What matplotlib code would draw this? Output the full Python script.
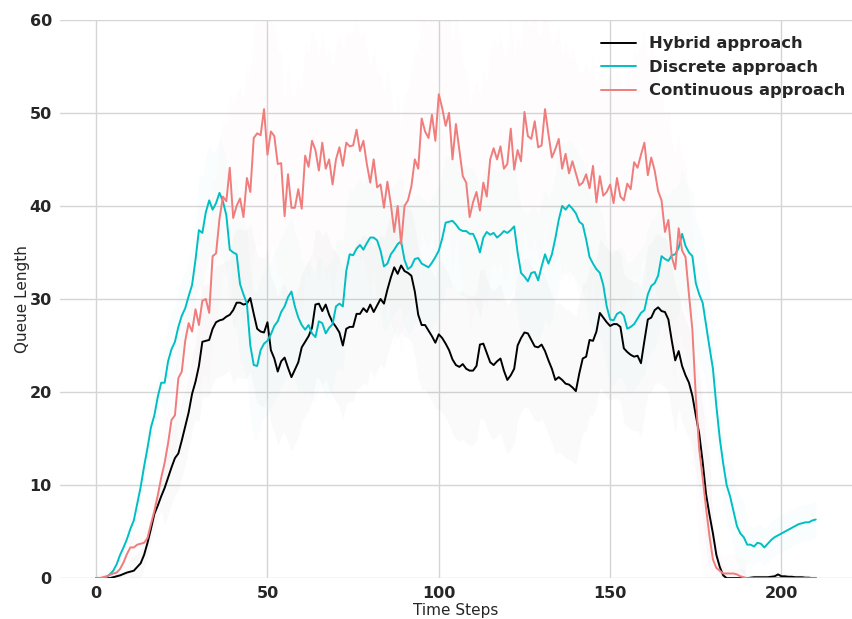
import numpy as np
import matplotlib
matplotlib.use("Agg")
import matplotlib.pyplot as plt
import seaborn as sns

# mean queue length per time step (t = 0 .. 210)
hybrid = [
    0, 0, 0, 0, 0, 0.1, 0.2, 0.3, 0.45, 0.6,
    0.7, 0.8, 1.2, 1.6, 2.5, 3.8, 5.3, 6.9, 7.8, 8.8,
    9.7, 10.8, 11.9, 12.9, 13.4, 14.8, 16.3, 17.8, 19.8, 21.1,
    22.8, 25.4, 25.5, 25.6, 26.8, 27.5, 27.7, 27.8, 28.1, 28.3,
    28.8, 29.6, 29.6, 29.4, 29.5, 30.1, 28.4, 26.8, 26.5, 26.4,
    27.5, 24.5, 23.6, 22.2, 23.3, 23.7, 22.6, 21.6, 22.4, 23.2,
    24.8, 25.4, 26.0, 26.9, 29.4, 29.5, 28.7, 29.4, 28.3, 27.5,
    27.0, 26.4, 25.0, 26.8, 27.0, 27.0, 28.4, 28.4, 29.0, 28.6,
    29.4, 28.6, 29.3, 30.0, 29.5, 31.0, 32.3, 33.4, 32.7, 33.6,
    33.0, 32.8, 32.5, 30.8, 28.3, 27.2, 27.2, 26.6, 26.0, 25.3,
    26.2, 25.8, 25.2, 24.5, 23.5, 22.9, 22.7, 23.0, 22.5, 22.3,
    22.3, 22.8, 25.1, 25.2, 24.2, 23.2, 22.9, 23.3, 23.6, 22.3,
    21.3, 21.8, 22.5, 25.0, 25.8, 26.4, 26.3, 25.6, 24.9, 24.8,
    25.1, 24.4, 23.4, 22.5, 21.3, 21.6, 21.3, 20.9, 20.8, 20.5,
    20.1, 22.0, 23.6, 23.8, 25.6, 25.5, 26.5, 28.5, 28.0, 27.5,
    27.1, 27.3, 27.3, 27.0, 24.7, 24.3, 24.0, 23.8, 23.9, 23.1,
    25.5, 27.8, 28.0, 28.8, 29.1, 28.7, 28.6, 27.8, 25.5, 23.4,
    24.4, 22.8, 21.8, 21.0, 19.6, 17.5, 15.5, 12.5, 9.0, 6.8,
    4.8, 2.5, 1.2, 0.3, 0, 0, 0, 0, 0, 0,
    0, 0.05, 0.1, 0.1, 0.1, 0.1, 0.1, 0.15, 0.2, 0.4,
    0.2, 0.2, 0.15, 0.15, 0.1, 0.1, 0.1, 0.05, 0.05, 0,
    0,
]
discrete = [
    0, 0, 0, 0.1, 0.4, 0.8, 1.5, 2.5, 3.3, 4.2,
    5.3, 6.2, 8.0, 9.8, 12.0, 14.0, 16.2, 17.5, 19.5, 21.0,
    21.0, 23.3, 24.6, 25.4, 27.0, 28.2, 29.0, 30.3, 31.5, 34.2,
    37.4, 37.1, 39.3, 40.6, 39.6, 40.3, 41.4, 40.5, 39.0, 35.3,
    35.0, 34.8, 31.6, 30.5, 29.5, 25.0, 22.9, 22.8, 24.5, 25.2,
    25.5, 26.2, 27.1, 27.6, 28.6, 29.2, 30.2, 30.8, 29.2, 28.0,
    27.2, 26.7, 27.2, 26.3, 25.9, 27.6, 27.4, 26.3, 26.9, 27.3,
    29.2, 29.5, 29.2, 33.0, 34.8, 34.7, 35.4, 35.8, 35.3, 36.0,
    36.6, 36.6, 36.3, 35.2, 33.5, 33.8, 34.8, 35.3, 35.9, 36.2,
    34.2, 33.2, 33.5, 34.3, 34.4, 33.8, 33.6, 33.4, 33.9, 34.5,
    35.2, 36.5, 38.2, 38.3, 38.4, 38.0, 37.5, 37.3, 37.3, 37.0,
    37.0, 36.2, 35.0, 36.6, 37.2, 36.9, 37.1, 36.6, 36.9, 37.3,
    37.1, 37.4, 37.8, 35.0, 32.8, 32.4, 31.9, 32.8, 32.9, 32.0,
    33.5, 34.8, 33.8, 34.8, 36.5, 38.5, 40.0, 39.6, 40.1, 39.7,
    39.2, 38.3, 38.0, 36.4, 34.5, 33.8, 33.2, 32.8, 31.5, 29.2,
    27.8, 27.7, 28.4, 28.6, 28.2, 26.8, 27.0, 27.3, 27.9, 28.5,
    28.8, 30.5, 31.4, 31.7, 32.5, 34.6, 34.3, 34.1, 34.7, 34.8,
    35.5, 37.0, 35.7, 35.0, 34.6, 31.7, 30.5, 29.6, 27.2, 24.8,
    22.5, 18.5, 15.0, 12.3, 10.0, 8.8, 7.2, 5.6, 4.8, 4.4,
    3.6, 3.6, 3.4, 3.8, 3.7, 3.3, 3.7, 4.1, 4.4, 4.6,
    4.8, 5.0, 5.2, 5.4, 5.6, 5.8, 5.9, 6.0, 6.0, 6.2,
    6.3,
]
continuous = [
    0, 0, 0.1, 0.2, 0.35, 0.5, 0.6, 1.0, 1.7, 2.6,
    3.3, 3.3, 3.6, 3.7, 3.8, 4.3, 5.8, 7.2, 8.9, 10.8,
    12.4, 14.5, 17.0, 17.5, 21.5, 22.2, 25.5, 27.4, 26.5, 28.9,
    27.2, 29.8, 30.0, 28.5, 34.6, 34.9, 38.6, 41.0, 40.5, 44.1,
    38.7, 40.0, 40.8, 38.8, 43.0, 41.5, 47.3, 47.8, 47.6, 50.4,
    45.5, 48.0, 47.5, 44.5, 44.6, 38.9, 43.4, 39.8, 39.8, 41.8,
    39.7, 45.4, 44.2, 47.0, 46.0, 43.8, 46.8, 44.0, 45.0, 42.3,
    45.0, 46.3, 44.3, 46.8, 46.4, 46.5, 48.2, 45.9, 47.0, 44.5,
    42.5, 45.0, 42.0, 42.3, 39.8, 42.6, 40.2, 37.2, 40.0, 35.9,
    40.0, 40.6, 42.1, 45.0, 44.0, 49.4, 48.0, 47.3, 49.8, 47.0,
    52.0, 50.5, 48.6, 50.0, 45.0, 48.8, 46.0, 43.2, 42.5, 38.8,
    40.4, 41.5, 39.5, 42.5, 41.0, 45.0, 46.2, 45.0, 46.4, 44.0,
    44.5, 48.3, 43.9, 46.0, 44.8, 50.1, 47.5, 47.2, 49.1, 46.3,
    46.5, 50.4, 47.7, 45.2, 46.1, 47.2, 44.0, 45.6, 43.5, 44.8,
    43.5, 42.2, 42.5, 43.4, 41.9, 44.3, 40.4, 43.2, 41.1, 41.5,
    42.3, 40.3, 43.0, 41.0, 40.6, 42.4, 41.8, 44.7, 44.1, 45.5,
    46.8, 43.3, 45.2, 43.8, 41.6, 40.6, 37.2, 38.5, 34.5, 33.2,
    37.6, 35.2, 34.5, 30.5, 26.7, 19.5, 13.8, 10.8, 7.5, 4.5,
    2.0, 1.1, 0.8, 0.5, 0.5, 0.5, 0.5, 0.4, 0.2, 0.1,
    0, 0, 0, 0, 0, 0, 0, 0, 0, 0,
    0, 0, 0, 0, 0, 0, 0, 0, 0, 0,
    0,
]

# spread of the shaded band, one value per block of 10 time steps
hybrid_spread = [0.3, 1.5, 4, 6, 8, 8, 8, 8, 7, 7, 8, 8, 8, 8, 8, 8, 8, 6, 1, 0.3, 0.3, 0.3]
discrete_spread = [0.5, 2, 4, 6, 8, 8, 7, 7, 7, 7, 7, 7, 7, 7, 7, 7, 7, 7, 4, 2, 2, 2]
continuous_spread = [0.3, 1.5, 4, 8, 12, 12, 12, 12, 12, 12, 12, 12, 12, 12, 12, 12, 12, 10, 2, 0.3, 0.3, 0.3]

labels = ["Hybrid approach", "Discrete approach", "Continuous approach"]
colors = ["black", "#00bfc4", "#f07c7c"]

sns.set_style("whitegrid")
plt.rcParams["font.family"] = ["DejaVu Sans"]

fig = plt.figure(figsize=(8.53, 6.19), dpi=100)
ax = fig.add_axes([0.0705, 0.066, 0.928, 0.902])

steps = np.arange(len(hybrid))
series = [hybrid, discrete, continuous]
spreads = [hybrid_spread, discrete_spread, continuous_spread]

for vals, spr, lab, col in zip(series, spreads, labels, colors):
    vals = np.array(vals)
    s = np.repeat(spr, 10)[: len(vals)]
    ax.fill_between(steps, np.clip(vals - s, 0, None), vals + s,
                    color=col, alpha=0.018, linewidth=0)
    ax.plot(steps, vals, color=col, linewidth=1.4, label=lab)

ax.set_ylim(0, 60)
ax.set_xticks([0, 50, 100, 150, 200])
ax.set_yticks(range(0, 61, 10))
ax.grid(True, color="#d5d5d5", linewidth=1.0)
for sp in ax.spines.values():
    sp.set_visible(False)
ax.tick_params(axis="both", length=0, pad=6, labelsize=11.5, labelcolor="#262626")
for t in ax.get_xticklabels() + ax.get_yticklabels():
    t.set_fontweight("bold")

ax.set_xlabel("Time Steps", fontsize=11, color="#262626", labelpad=1)
ax.set_ylabel("Queue Length", fontsize=11, color="#262626", labelpad=0)

leg = ax.legend(loc="upper right", bbox_to_anchor=(1.0, 0.982), frameon=False,
                prop={"weight": "bold", "size": 11.8},
                handlelength=2.1, borderaxespad=0, labelspacing=0.52)

fig.savefig("out.png", dpi=100)
